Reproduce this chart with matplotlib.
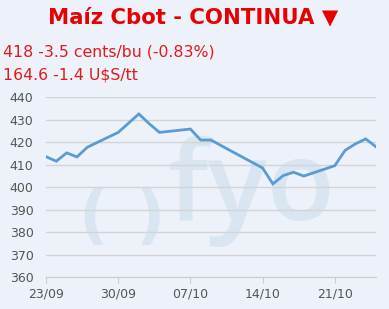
import matplotlib
matplotlib.use("Agg")
import matplotlib.pyplot as plt

# days since 23/09 (trading days only)
days = [0, 1, 2, 3, 4, 7, 8, 9, 10, 11, 14, 15, 16, 17, 18,
        21, 22, 23, 24, 25, 28, 29, 30, 31, 32]
prices = [413.6, 411.6, 415.3, 413.5, 417.8, 424.4, 428.5, 432.6, 428.3, 424.4,
          425.9, 421.0, 421.0, 418.5, 416.0, 408.6, 401.5, 405.2, 406.7, 405.0,
          409.6, 416.4, 419.3, 421.5, 418.0]
tick_pos = [0, 7, 14, 21, 28]
tick_lab = ["23/09", "30/09", "07/10", "14/10", "21/10"]
yticks = [360, 370, 380, 390, 400, 410, 420, 430, 440]

title = "Maíz Cbot - CONTINUA ▼"
line1 = "418 -3.5 cents/bu (-0.83%)"
line2 = "164.6 -1.4 U$S/tt"

bg = "#edf1f9"
fig = plt.figure(figsize=(3.89, 3.09), dpi=100, facecolor=bg)
ax = fig.add_axes([0.1183, 0.1026, 0.8483, 0.5825])
ax.set_facecolor(bg)

# watermark logo, behind grid and line
wm = "#d9e6f1"
ax.text(0.239, 0.29, "(", fontsize=46, color=wm, ha="center", va="center",
        fontweight="bold", transform=fig.transFigure, zorder=0.1)
ax.text(0.386, 0.29, ")", fontsize=46, color=wm, ha="center", va="center",
        fontweight="bold", transform=fig.transFigure, zorder=0.1)
ax.text(0.43, 0.288, "fyo", fontsize=80, color=wm, ha="left", va="baseline",
        family="Open Sans", fontweight="semibold", transform=fig.transFigure, zorder=0.1)

ax.plot(days, prices, color="#5b9bd5", lw=2.0, solid_joinstyle="miter", zorder=3)

ax.set_xlim(0, 32)
ax.set_ylim(360, 440)
ax.set_yticks(yticks)
ax.set_xticks(tick_pos)
ax.set_xticklabels(tick_lab)
ax.grid(axis="y", color="#d4d4d4", lw=1, zorder=0.5)
ax.set_axisbelow(True)
for s in ["top", "right", "left"]:
    ax.spines[s].set_visible(False)
ax.spines["bottom"].set_color("#cccccc")
ax.tick_params(axis="y", length=0, labelsize=9, labelcolor="#555555", pad=9)
ax.tick_params(axis="x", length=4, color="#cccccc", labelsize=9, labelcolor="#555555", pad=3)

fig.text(0.497, 0.945, title, fontsize=15.3, color="#e60000", fontweight="bold", ha="center", va="center")
fig.text(0.008, 0.832, line1, fontsize=11.3, color="#e01b1b", ha="left", va="center")
fig.text(0.008, 0.757, line2, fontsize=11.3, color="#e01b1b", ha="left", va="center")

fig.savefig("out.png", dpi=100, facecolor=bg)
